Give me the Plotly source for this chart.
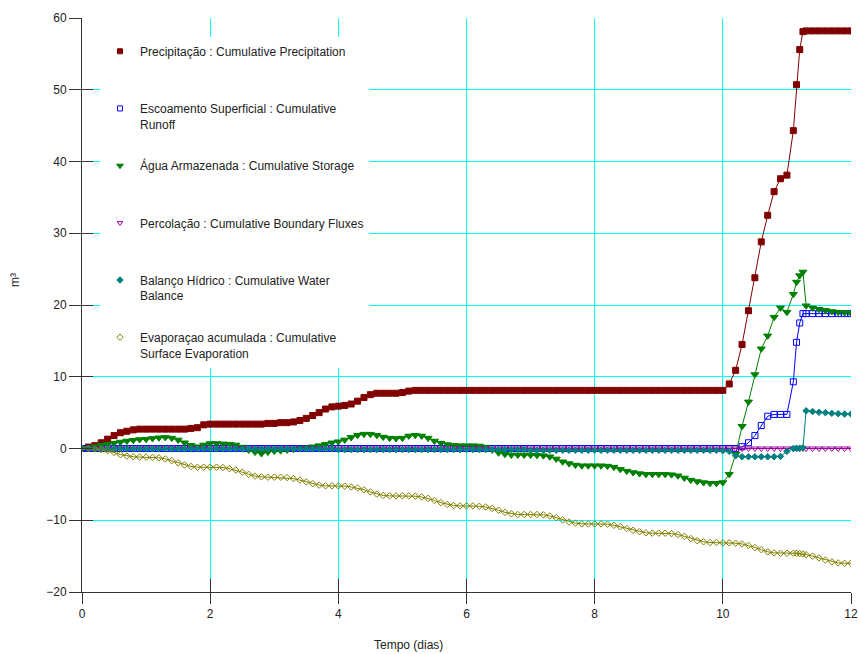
import plotly.graph_objects as go

# time (dias)
t = [0.0, 0.1, 0.2, 0.3, 0.4, 0.5, 0.6, 0.7, 0.8, 0.9,
     1.0, 1.1, 1.2, 1.3, 1.4, 1.5, 1.6, 1.7, 1.8, 1.9,
     2.0, 2.1, 2.2, 2.3, 2.4, 2.5, 2.6, 2.7, 2.8, 2.9,
     3.0, 3.1, 3.2, 3.3, 3.4, 3.5, 3.6, 3.7, 3.8, 3.9,
     4.0, 4.1, 4.2, 4.3, 4.4, 4.5, 4.6, 4.7, 4.8, 4.9,
     5.0, 5.1, 5.2, 5.3, 5.4, 5.5, 5.6, 5.7, 5.8, 5.9,
     6.0, 6.1, 6.2, 6.3, 6.4, 6.5, 6.6, 6.7, 6.8, 6.9,
     7.0, 7.1, 7.2, 7.3, 7.4, 7.5, 7.6, 7.7, 7.8, 7.9,
     8.0, 8.1, 8.2, 8.3, 8.4, 8.5, 8.6, 8.7, 8.8, 8.9,
     9.0, 9.1, 9.2, 9.3, 9.4, 9.5, 9.6, 9.7, 9.8, 9.9,
     10.0, 10.1, 10.2, 10.3, 10.4, 10.5, 10.6, 10.7, 10.8, 10.9,
     11.0, 11.1, 11.15, 11.2, 11.25, 11.3, 11.4, 11.5, 11.6, 11.7, 11.8, 11.9,
     12.0]

precipitacao = [0.0, 0.2, 0.4, 0.8, 1.3, 1.8, 2.2, 2.4, 2.6, 2.7,
                2.7, 2.7, 2.7, 2.7, 2.7, 2.7, 2.7, 2.8, 2.9, 3.3,
                3.4, 3.4, 3.4, 3.4, 3.4, 3.4, 3.4, 3.4, 3.4, 3.5,
                3.5, 3.6, 3.6, 3.7, 3.9, 4.2, 4.6, 5.0, 5.5, 5.8,
                5.9, 6.0, 6.2, 6.6, 7.1, 7.5, 7.7, 7.7, 7.7, 7.7,
                7.8, 8.0, 8.1, 8.1, 8.1, 8.1, 8.1, 8.1, 8.1, 8.1,
                8.1, 8.1, 8.1, 8.1, 8.1, 8.1, 8.1, 8.1, 8.1, 8.1,
                8.1, 8.1, 8.1, 8.1, 8.1, 8.1, 8.1, 8.1, 8.1, 8.1,
                8.1, 8.1, 8.1, 8.1, 8.1, 8.1, 8.1, 8.1, 8.1, 8.1,
                8.1, 8.1, 8.1, 8.1, 8.1, 8.1, 8.1, 8.1, 8.1, 8.1,
                8.1, 9.0, 10.9, 14.5, 19.2, 23.8, 28.8, 32.5, 35.8, 37.6,
                38.1, 44.3, 50.7, 55.6, 58.1, 58.2, 58.2, 58.2, 58.2, 58.2, 58.2, 58.2,
                58.2]

escoamento = [0.0, 0.0, 0.0, 0.0, 0.0, 0.0, 0.0, 0.0, 0.0, 0.0,
              0.0, 0.0, 0.0, 0.0, 0.0, 0.0, 0.0, 0.0, 0.0, 0.0,
              0.0, 0.0, 0.0, 0.0, 0.0, 0.0, 0.0, 0.0, 0.0, 0.0,
              0.0, 0.0, 0.0, 0.0, 0.0, 0.0, 0.0, 0.0, 0.0, 0.0,
              0.0, 0.0, 0.0, 0.0, 0.0, 0.0, 0.0, 0.0, 0.0, 0.0,
              0.0, 0.0, 0.0, 0.0, 0.0, 0.0, 0.0, 0.0, 0.0, 0.0,
              0.0, 0.0, 0.0, 0.0, 0.0, 0.0, 0.0, 0.0, 0.0, 0.0,
              0.0, 0.0, 0.0, 0.0, 0.0, 0.0, 0.0, 0.0, 0.0, 0.0,
              0.0, 0.0, 0.0, 0.0, 0.0, 0.0, 0.0, 0.0, 0.0, 0.0,
              0.0, 0.0, 0.0, 0.0, 0.0, 0.0, 0.0, 0.0, 0.0, 0.0,
              0.0, 0.0, 0.0, 0.25, 0.8, 1.8, 3.2, 4.5, 4.75, 4.75,
              4.75, 9.3, 14.8, 17.5, 18.8, 18.8, 18.8, 18.8, 18.8, 18.8, 18.8, 18.8,
              18.8]

armazenada = [0.0, 0.1, 0.25, 0.45, 0.6, 0.75, 0.9, 1.05, 1.15, 1.25,
              1.3, 1.4, 1.5, 1.55, 1.45, 1.2, 0.8, 0.45, 0.25, 0.5,
              0.7, 0.7, 0.65, 0.6, 0.5, 0.2, -0.2, -0.5, -0.7, -0.5,
              -0.35, -0.3, -0.2, -0.1, 0.0, 0.1, 0.25, 0.4, 0.6, 0.8,
              0.95, 1.2, 1.55, 1.85, 2.0, 2.0, 1.85, 1.6, 1.45, 1.4,
              1.45, 1.75, 1.85, 1.75, 1.45, 1.05, 0.75, 0.55, 0.45, 0.4,
              0.4, 0.4, 0.35, 0.2, -0.2, -0.6, -0.8, -0.9, -0.9, -0.9,
              -0.9, -0.95, -1.0, -1.15, -1.45, -1.85, -2.1, -2.3, -2.4, -2.4,
              -2.4, -2.4, -2.45, -2.6, -2.9, -3.15, -3.35, -3.5, -3.6, -3.6,
              -3.6, -3.6, -3.65, -3.8, -4.1, -4.4, -4.6, -4.75, -4.85, -4.85,
              -4.75, -3.6, -0.8, 3.1, 6.5, 10.3, 13.9, 15.7, 18.3, 19.6,
              19.0, 21.5, 23.2, 24.1, 24.6, 19.9, 19.6, 19.4, 19.25, 19.1, 19.0, 18.95,
              18.9]

percolacao = [0.0, 0.0, 0.0, 0.0, 0.0, 0.0, 0.0, 0.0, 0.0, 0.0,
              0.0, 0.0, 0.0, 0.0, 0.0, 0.0, 0.0, 0.0, 0.0, 0.0,
              0.0, 0.0, 0.0, 0.0, 0.0, 0.0, 0.0, 0.0, 0.0, 0.0,
              0.0, 0.0, 0.0, 0.0, 0.0, 0.0, 0.0, 0.0, 0.0, 0.0,
              0.0, 0.0, 0.0, 0.0, 0.0, 0.0, 0.0, 0.0, 0.0, 0.0,
              0.0, 0.0, 0.0, 0.0, 0.0, 0.0, 0.0, 0.0, 0.0, 0.0,
              0.0, 0.0, 0.0, 0.0, 0.0, 0.0, 0.0, 0.0, 0.0, 0.0,
              0.0, 0.0, 0.0, 0.0, 0.0, 0.0, 0.0, 0.0, 0.0, 0.0,
              0.0, 0.0, 0.0, 0.0, 0.0, 0.0, 0.0, 0.0, 0.0, 0.0,
              0.0, 0.0, 0.0, 0.0, 0.0, 0.0, 0.0, 0.0, 0.0, 0.0,
              0.0, 0.0, 0.0, 0.0, 0.0, 0.0, 0.0, 0.0, 0.0, 0.0,
              0.0, 0.0, 0.0, 0.0, 0.0, 0.0, 0.0, 0.0, 0.0, 0.0, 0.0, 0.0,
              0.0]

balanco = [0.0, 0.0, -0.05, -0.05, -0.05, -0.05, -0.05, -0.05, -0.05, -0.05,
           -0.05, -0.05, -0.05, -0.05, -0.05, -0.05, -0.05, -0.05, -0.05, -0.05,
           -0.05, -0.05, -0.05, -0.05, -0.05, -0.05, -0.05, -0.05, -0.05, -0.05,
           -0.05, -0.05, -0.05, -0.05, -0.05, -0.05, -0.05, -0.05, -0.05, -0.05,
           -0.15, -0.15, -0.15, -0.15, -0.15, -0.15, -0.15, -0.15, -0.15, -0.15,
           -0.15, -0.15, -0.15, -0.15, -0.15, -0.15, -0.15, -0.15, -0.15, -0.15,
           -0.15, -0.15, -0.15, -0.15, -0.15, -0.15, -0.15, -0.15, -0.15, -0.15,
           -0.25, -0.25, -0.25, -0.25, -0.25, -0.25, -0.25, -0.25, -0.25, -0.25,
           -0.25, -0.25, -0.25, -0.25, -0.25, -0.25, -0.25, -0.25, -0.25, -0.25,
           -0.25, -0.25, -0.25, -0.25, -0.25, -0.25, -0.25, -0.25, -0.25, -0.25,
           -0.3, -0.4, -1.0, -1.15, -1.15, -1.15, -1.15, -1.15, -1.15, -1.1,
           -0.4, 0.0, 0.05, 0.05, 0.1, 5.25, 5.15, 5.05, 5.0, 4.9, 4.85, 4.8,
           4.8]

evaporacao = [0.0, 0.0, -0.05, -0.15, -0.3, -0.55, -0.85, -1.05, -1.15, -1.2,
              -1.2, -1.25, -1.3, -1.45, -1.7, -2.0, -2.3, -2.5, -2.6, -2.6,
              -2.6, -2.6, -2.65, -2.8, -3.0, -3.3, -3.6, -3.85, -3.95, -4.0,
              -4.0, -4.0, -4.05, -4.2, -4.4, -4.65, -4.9, -5.1, -5.2, -5.2,
              -5.2, -5.25, -5.35, -5.5, -5.75, -6.05, -6.35, -6.55, -6.6, -6.6,
              -6.6, -6.6, -6.65, -6.75, -6.95, -7.25, -7.55, -7.8, -7.95, -8.0,
              -8.0, -8.0, -8.05, -8.15, -8.35, -8.6, -8.9, -9.1, -9.2, -9.2,
              -9.2, -9.2, -9.25, -9.4, -9.65, -9.95, -10.25, -10.4, -10.5, -10.5,
              -10.5, -10.5, -10.55, -10.7, -10.9, -11.15, -11.4, -11.6, -11.75, -11.8,
              -11.8, -11.8, -11.85, -12.0, -12.25, -12.55, -12.85, -13.0, -13.1, -13.1,
              -13.15, -13.15, -13.2, -13.3, -13.5, -13.8, -14.1, -14.4, -14.55, -14.6,
              -14.6, -14.6, -14.6, -14.65, -14.7, -14.8, -15.0, -15.25, -15.55, -15.8, -15.95, -16.0,
              -16.0]

x_ticks = [0, 2, 4, 6, 8, 10, 12]
y_ticks = [-20, -10, 0, 10, 20, 30, 40, 50, 60]

names = [
    "Precipitação : Cumulative Precipitation<br> ",
    "Escoamento Superficial : Cumulative<br>Runoff",
    "Água Armazenada : Cumulative Storage<br> ",
    "Percolação : Cumulative Boundary Fluxes<br> ",
    "Balanço Hídrico : Cumulative Water<br>Balance",
    "Evaporaçao acumulada : Cumulative<br>Surface Evaporation",
]
series = [precipitacao, escoamento, armazenada, percolacao, balanco, evaporacao]
colors = ["#800000", "#0000FF", "#008000", "#A000A0", "#008080", "#808000"]
symbols = ["square", "square-open", "triangle-down", "triangle-down-open", "diamond", "diamond-open"]
sizes = [6, 6, 7, 6, 5, 5]
legend_sizes = [5, 5, 6, 5, 5, 5]

FONT = "Arial, Liberation Sans, sans-serif"

fig = go.Figure()
for i, (nm, ys, c, s, sz) in enumerate(zip(names, series, colors, symbols, sizes)):
    fig.add_trace(go.Scatter(
        x=t, y=ys, mode="lines+markers", name=nm, legendgroup=f"g{i}",
        showlegend=False,
        line=dict(color=c, width=1),
        marker=dict(symbol=s, size=sz, color=c, line=dict(color=c, width=1)),
    ))
for i, (nm, c, s, sz) in enumerate(zip(names, colors, symbols, legend_sizes)):
    fig.add_trace(go.Scatter(
        x=[None], y=[None], mode="markers", name=nm, legendgroup=f"g{i}",
        showlegend=True,
        marker=dict(symbol=s, size=sz, color=c, line=dict(color=c, width=1)),
    ))
# carrier for inside tick marks
fig.add_trace(go.Scatter(x=[], y=[], xaxis="x2", yaxis="y2", showlegend=False, hoverinfo="skip"))

axis_font = dict(family=FONT, size=12, color="#222222")
fig.update_layout(
    width=859, height=654,
    margin=dict(l=82, r=8, t=18, b=62),
    paper_bgcolor="white", plot_bgcolor="white",
    font=dict(family=FONT, size=12, color="#222222"),
    xaxis=dict(range=[0, 12], tickvals=x_ticks, ticks="outside", ticklen=11,
               tickcolor="#333333", showline=True, linecolor="#333333", linewidth=1,
               showgrid=True, gridcolor="#00FFFF", gridwidth=1, zeroline=False,
               tickfont=axis_font, automargin=False),
    yaxis=dict(range=[-20, 60], tickvals=y_ticks, ticks="outside", ticklen=12,
               tickcolor="#333333", showline=True, linecolor="#333333", linewidth=1,
               showgrid=True, gridcolor="#00FFFF", gridwidth=1, zeroline=False,
               tickfont=axis_font, automargin=False),
    xaxis2=dict(range=[0, 12], tickvals=x_ticks, ticks="inside", ticklen=13,
                tickcolor="#333333", overlaying="x", anchor="y2", side="bottom",
                showticklabels=False, showgrid=False, showline=False, zeroline=False,
                automargin=False),
    yaxis2=dict(range=[-20, 60], tickvals=y_ticks, ticks="inside", ticklen=11,
                tickcolor="#333333", overlaying="y", anchor="x2", side="left",
                showticklabels=False, showgrid=False, showline=False, zeroline=False,
                automargin=False),
    legend=dict(x=0.0234, y=0.967, xanchor="left", yanchor="top",
                bgcolor="white", borderwidth=0, valign="top",
                traceorder="grouped", tracegroupgap=23,
                font=dict(family=FONT, size=12, color="#222222")),
    showlegend=True,
    annotations=[
        dict(text="Tempo (dias)", xref="paper", yref="paper", x=0.4252, y=-0.0923,
             xanchor="center", yanchor="middle", showarrow=False,
             font=dict(family=FONT, size=12, color="#222222")),
        dict(text="m³", xref="paper", yref="paper", x=-0.0871, y=0.5436,
             xanchor="center", yanchor="middle", showarrow=False, textangle=-90,
             font=dict(family=FONT, size=12, color="#222222")),
    ],
)

fig.write_html("out.html")
